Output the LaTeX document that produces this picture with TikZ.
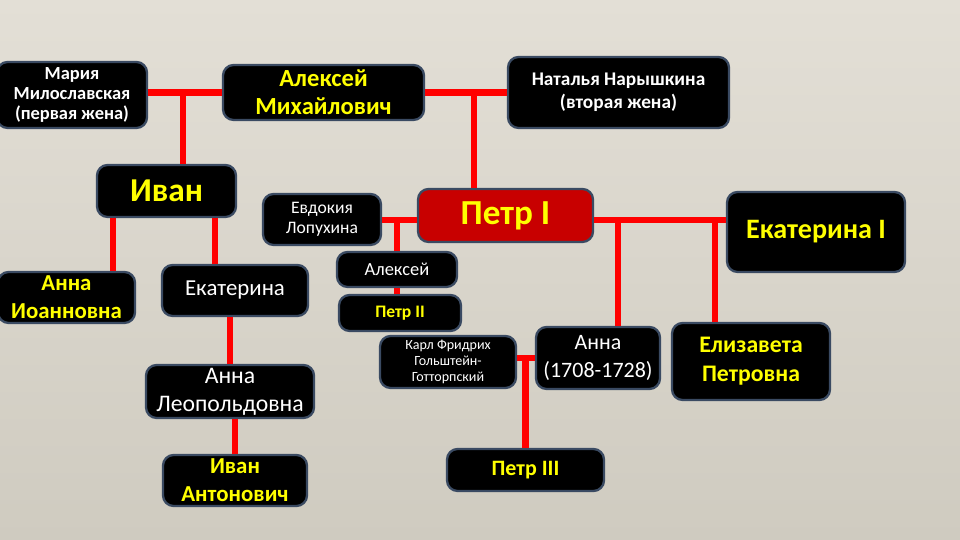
\documentclass[tikz,border=0pt]{standalone}
\usepackage{fontspec}
\setmainfont{Carlito}
\definecolor{paperhi}{HTML}{E3DFD6}
\definecolor{paperlo}{HTML}{CFCBC0}
\definecolor{bond}{HTML}{FF0000}
\definecolor{crown}{HTML}{FFFF00}
\definecolor{rim}{HTML}{3A4A62}
\definecolor{tsarred}{HTML}{C80000}
\newcommand{\fsz}[2]{\fontsize{#1}{#2}\selectfont}

\begin{document}
\begin{tikzpicture}[
  person/.style={draw=rim,line width=1.3pt,fill=black,rounded corners=6pt,align=center,inner sep=1pt,text=white},
  royal/.style={person,text=crown},
  link/.style={draw=bond,line width=3.7pt}]
  \useasboundingbox (0,0) rectangle (19.2,10.8);
  \shade[top color=paperhi,bottom color=paperlo] (0,0) rectangle (19.2,10.8);

  % first generation
  \node[person,inner sep=0pt,minimum width=3.0cm,minimum height=1.32cm,font=\fsz{10.5}{11.6}\bfseries] (maria) at (1.44,8.9) {Мария\\Милославская\\(первая жена)};
  \node[royal,minimum width=4.02cm,minimum height=1.1cm,font=\fsz{14}{16}\bfseries] (tsar) at (6.47,8.95) {Алексей\\Михайлович};
  \node[person,minimum width=4.42cm,minimum height=1.42cm,font=\fsz{11}{13}\bfseries] (natalya) at (12.37,8.95) {Наталья Нарышкина\\(вторая жена)};
  % children and spouses
  \node[royal,minimum width=2.78cm,minimum height=1.04cm,font=\fsz{19}{22}\bfseries] (ivan) at (3.33,6.98) {Иван};
  \node[person,minimum width=2.36cm,minimum height=1.02cm,font=\fsz{10}{11.5}] (evdokia) at (6.44,6.41) {Евдокия\\Лопухина};
  \node[royal,fill=tsarred,minimum width=3.5cm,minimum height=1.06cm,font=\fsz{20}{24}\bfseries] (peter1) at (10.11,6.49) {Петр I};
  \node[royal,minimum width=3.56cm,minimum height=1.6cm,font=\fsz{16}{19}\bfseries] (ekat1) at (16.32,6.16) {\raisebox{-3pt}{Екатерина I}};
  % grandchildren
  \node[royal,minimum width=2.74cm,minimum height=1.02cm,font=\fsz{13}{16}\bfseries] (annaI) at (1.33,4.85) {Анна\\Иоанновна};
  \node[person,minimum width=2.92cm,minimum height=1.02cm,font=\fsz{13}{16}] (ekat) at (4.7,4.99) {Екатерина};
  \node[person,minimum width=2.4cm,minimum height=0.7cm,font=\fsz{10.5}{13}] (alexei) at (7.94,5.41) {Алексей};
  \node[royal,minimum width=2.44cm,minimum height=0.72cm,font=\fsz{10}{12}\bfseries] (peter2) at (8.0,4.54) {Петр II};
  \node[person,minimum width=2.72cm,minimum height=1.04cm,font=\fsz{8}{9.3}] (karl) at (8.96,3.56) {Карл Фридрих\\Гольштейн-\\Готторпский};
  \node[person,minimum width=2.48cm,minimum height=1.24cm,font=\fsz{12.5}{15.5}] (anna) at (11.96,3.64) {Анна\\(1708-1728)};
  \node[royal,minimum width=3.16cm,minimum height=1.54cm,font=\fsz{13.5}{16.5}\bfseries] (eliz) at (15.02,3.57) {Елизавета\\Петровна};
  \node[person,minimum width=3.36cm,minimum height=1.06cm,font=\fsz{13.5}{16}] (annaL) at (4.6,2.97) {Анна\\Леопольдовна};
  \node[royal,minimum width=2.88cm,minimum height=1.02cm,font=\fsz{13}{16}\bfseries] (ivanA) at (4.7,1.19) {Иван\\Антонович};
  \node[royal,minimum width=3.14cm,minimum height=0.84cm,font=\fsz{12.5}{15}\bfseries] (peter3) at (10.51,1.4) {Петр III};

  % drop points on the marriage lines
  \coordinate (dropI) at (3.66,8.95);
  \coordinate (dropP) at (9.48,8.95);
  \coordinate (dropAI) at (2.26,0);
  \coordinate (dropE) at (4.3,0);
  \coordinate (wed) at (0,6.4);
  \coordinate (dropAn) at (12.36,6.4);
  \coordinate (dropEl) at (14.3,6.4);

  % marriages
  \draw[link] (maria.east |- tsar.west) -- (tsar.west);
  \draw[link] (tsar.east) -- (tsar.east -| natalya.west);
  \draw[link] (evdokia.east |- wed) -- (peter1.west |- wed);
  \draw[link] (peter1.east |- wed) -- (ekat1.west |- wed);
  \draw[link] (karl.east |- anna.west) -- (anna.west);
  % descent
  \draw[link] (dropI) -- (dropI |- ivan.north);
  \draw[link] (dropP) -- (dropP |- peter1.north);
  \draw[link] (dropAI |- ivan.south) -- (dropAI |- annaI.north);
  \draw[link] (dropE |- ivan.south) -- (dropE |- ekat.north);
  \draw[link] (alexei.north |- wed) -- (alexei.north);
  \draw[link] (alexei.south) -- (alexei.south |- peter2.north);
  \draw[link] (annaL.north |- ekat.south) -- (annaL.north);
  \draw[link] (ivanA.north |- annaL.south) -- (ivanA.north);
  \draw[link] (dropAn) -- (dropAn |- anna.north);
  \draw[link] (dropEl) -- (dropEl |- eliz.north);
  \draw[link] (peter3.north |- anna.west) -- (peter3.north);
\end{tikzpicture}
\end{document}
